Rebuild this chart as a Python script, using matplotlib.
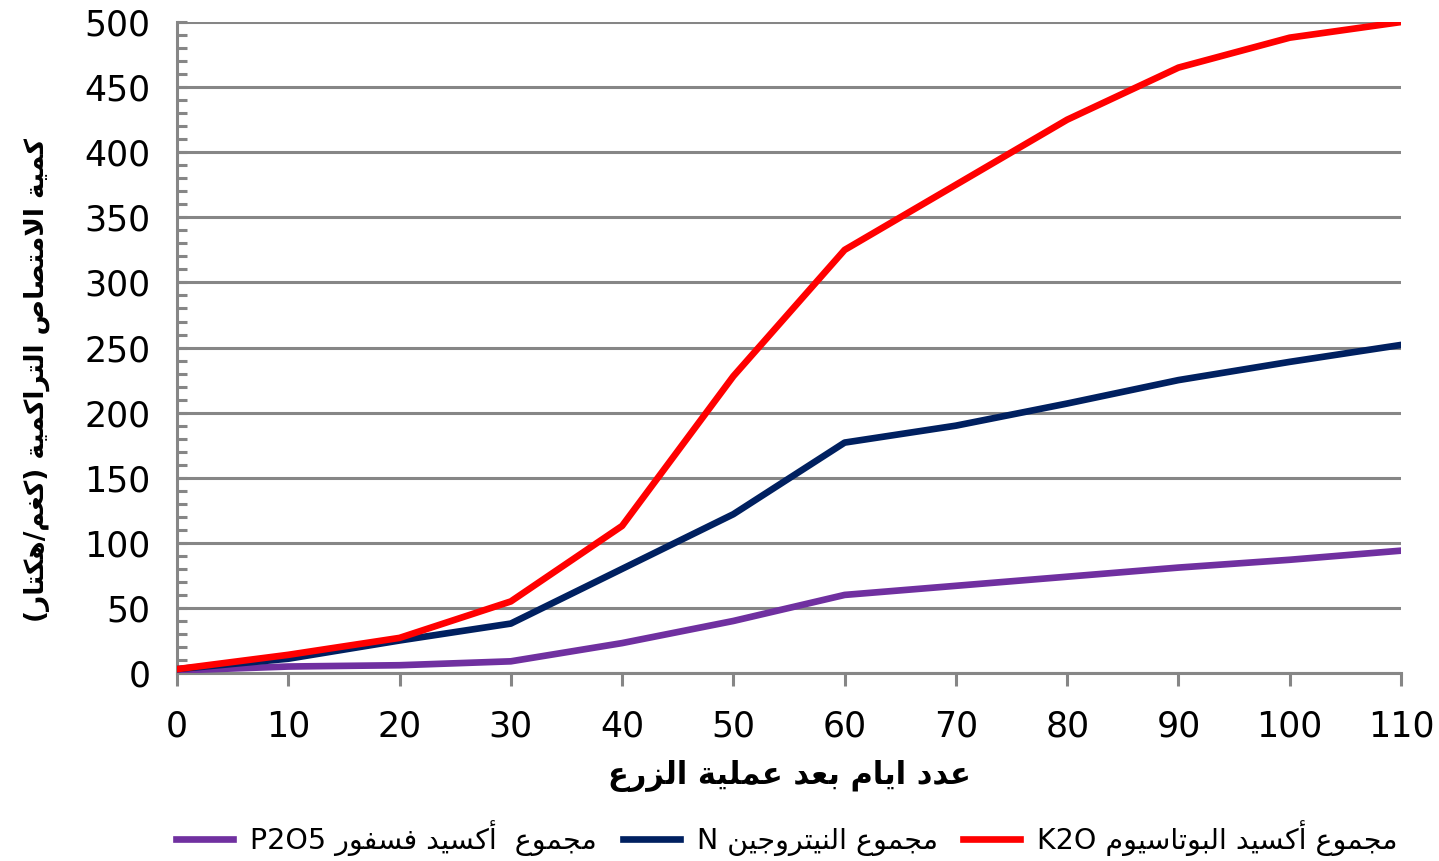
import matplotlib
matplotlib.use('Agg')
import matplotlib.pyplot as plt
from matplotlib.ticker import MultipleLocator

plt.rcParams['font.family'] = ['DejaVu Sans']

# days after sowing
days = [0, 10, 20, 30, 40, 50, 60, 70, 80, 90, 100, 110]

# cumulative uptake (kg/ha)
k2o = [3, 14, 27, 55, 113, 228, 325, 375, 425, 465, 488, 500]
n_total = [3, 11, 25, 38, 80, 122, 177, 190, 207, 225, 239, 252]
p2o5 = [2, 5, 6, 9, 23, 40, 60, 67, 74, 81, 87, 94]

x_ticks = list(range(0, 111, 10))
y_ticks = list(range(0, 501, 50))

x_title = 'عدد ايام بعد عملية الزرع'
y_title = 'كمية الامتصاص التراكمية (كغم/هكتار)'
legend_labels = ['مجموع  أكسيد فسفور P2O5', 'مجموع النيتروجين N', 'مجموع أكسيد البوتاسيوم K2O']

# Arabic letter forms: isolated, final, initial, medial
FORMS = {
    'ا': (0xFE8D, 0xFE8E, None, None),
    'أ': (0xFE83, 0xFE84, None, None),
    'ب': (0xFE8F, 0xFE90, 0xFE91, 0xFE92),
    'ة': (0xFE93, 0xFE94, None, None),
    'ت': (0xFE95, 0xFE96, 0xFE97, 0xFE98),
    'ج': (0xFE9D, 0xFE9E, 0xFE9F, 0xFEA0),
    'د': (0xFEA9, 0xFEAA, None, None),
    'ر': (0xFEAD, 0xFEAE, None, None),
    'ز': (0xFEAF, 0xFEB0, None, None),
    'س': (0xFEB1, 0xFEB2, 0xFEB3, 0xFEB4),
    'ص': (0xFEB9, 0xFEBA, 0xFEBB, 0xFEBC),
    'ع': (0xFEC9, 0xFECA, 0xFECB, 0xFECC),
    'غ': (0xFECD, 0xFECE, 0xFECF, 0xFED0),
    'ف': (0xFED1, 0xFED2, 0xFED3, 0xFED4),
    'ك': (0xFED9, 0xFEDA, 0xFEDB, 0xFEDC),
    'ل': (0xFEDD, 0xFEDE, 0xFEDF, 0xFEE0),
    'م': (0xFEE1, 0xFEE2, 0xFEE3, 0xFEE4),
    'ن': (0xFEE5, 0xFEE6, 0xFEE7, 0xFEE8),
    'ه': (0xFEE9, 0xFEEA, 0xFEEB, 0xFEEC),
    'و': (0xFEED, 0xFEEE, None, None),
    'ي': (0xFEF1, 0xFEF2, 0xFEF3, 0xFEF4),
}
LAM_ALEF = {'ا': (0xFEFB, 0xFEFC), 'أ': (0xFEF7, 0xFEF8)}
MIRROR = {'(': ')', ')': '('}


def joins_next(ch):
    return ch in FORMS and FORMS[ch][2] is not None


def shape(text):
    out = []
    i = 0
    while i < len(text):
        ch = text[i]
        prev = text[i - 1] if i > 0 else ''
        nxt = text[i + 1] if i + 1 < len(text) else ''
        if ch not in FORMS:
            out.append(ch)
            i += 1
            continue
        linked_prev = joins_next(prev)
        if ch == 'ل' and nxt in LAM_ALEF:
            out.append(chr(LAM_ALEF[nxt][1 if linked_prev else 0]))
            i += 2
            continue
        linked_next = joins_next(ch) and nxt in FORMS
        iso, fin, ini, med = FORMS[ch]
        if linked_prev and linked_next:
            code = med
        elif linked_prev:
            code = fin
        elif linked_next:
            code = ini
        else:
            code = iso
        out.append(chr(code))
        i += 1
    return out


def rtl(text):
    # shape letters, then lay out right-to-left keeping latin/digit runs intact
    chars = shape(text)
    runs, cur, cur_ltr = [], [], None
    for c in chars:
        ltr = c.isascii() and c.isalnum()
        if c == ' ' or c in '()/':
            if cur_ltr:
                runs.append((cur, True))
                cur, cur_ltr = [], None
            cur.append(MIRROR.get(c, c))
            cur_ltr = False if cur_ltr is None else cur_ltr
            continue
        if cur_ltr is None or ltr == cur_ltr:
            cur.append(c)
            cur_ltr = ltr
        else:
            runs.append((cur, cur_ltr))
            cur, cur_ltr = [c], ltr
    if cur:
        runs.append((cur, bool(cur_ltr)))
    visual = []
    for seg, is_ltr in reversed(runs):
        visual.extend(seg if is_ltr else reversed(seg))
    return ''.join(visual)


fig = plt.figure(figsize=(14.39, 8.61), dpi=100)
ax = fig.add_axes([0.123, 0.2183, 0.8506, 0.7561])

lw = 4.8
l_k, = ax.plot(days, k2o, color='#FF0000', lw=lw, solid_joinstyle='round', zorder=5)
l_n, = ax.plot(days, n_total, color='#002060', lw=lw, solid_joinstyle='round', zorder=4)
l_p, = ax.plot(days, p2o5, color='#7030A0', lw=lw, solid_joinstyle='round', zorder=3)

ax.set_xlim(0, 110)
ax.set_ylim(0, 500)
ax.set_xticks(x_ticks)
ax.set_yticks(y_ticks)
ax.yaxis.set_minor_locator(MultipleLocator(10))
ax.grid(axis='y', which='major', color='#868686', lw=2.2)
ax.set_axisbelow(True)

for side in ['top', 'right']:
    ax.spines[side].set_visible(False)
for side in ['left', 'bottom']:
    ax.spines[side].set_color('#868686')
    ax.spines[side].set_linewidth(2.2)

ax.tick_params(axis='x', direction='out', length=9, width=2.2, color='#868686',
               labelsize=25, pad=17)
ax.tick_params(axis='y', which='both', direction='in', length=7, width=2.2,
               color='#868686', labelsize=25, pad=19)

ax.set_xlabel(rtl(x_title), fontsize=22, fontweight='bold', labelpad=12)
ax.set_ylabel(rtl(y_title), fontsize=19, fontweight='bold')
ax.yaxis.set_label_coords(-0.104, 0.45)

fig.legend([l_p, l_n, l_k], [rtl(t) for t in legend_labels], loc='center',
           bbox_to_anchor=(0.547, 0.027), ncol=3, frameon=False, fontsize=20.5,
           handlelength=2.0, columnspacing=0.9, handletextpad=0.6)

fig.savefig('out.png', dpi=100)
